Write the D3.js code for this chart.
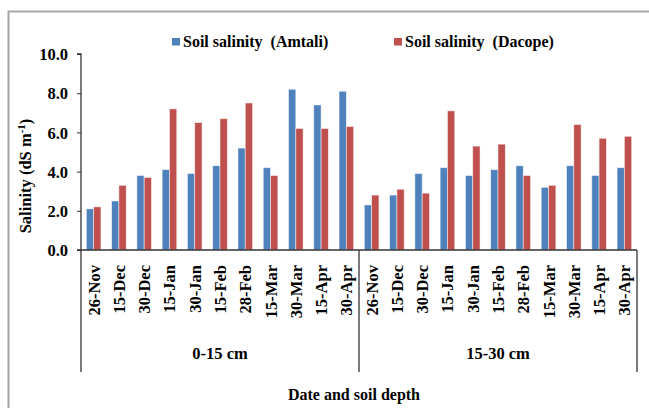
<!DOCTYPE html>
<html>
<head>
<meta charset="utf-8">
<script src="https://cdn.jsdelivr.net/npm/d3@7"></script>
<style>
	body { margin: 0; background: #fff; }
	svg text { font-family: "Liberation Serif", "Times New Roman", serif; font-weight: bold; }
</style>
</head>
<body>
<div id="chart"></div>
<script>
// Sampling dates (repeated for each depth)
const dates = ["26-Nov", "15-Dec", "30-Dec", "15-Jan", "30-Jan", "15-Feb", "28-Feb", "15-Mar", "30-Mar", "15-Apr", "30-Apr"]
const depths = ["0-15 cm", "15-30 cm"]

// Salinity values (dS m-1), 0-15 cm first then 15-30 cm
const amtali = [2.1, 2.5, 3.8, 4.1, 3.9, 4.3, 5.2, 4.2, 8.2, 7.4, 8.1,
	2.3, 2.8, 3.9, 4.2, 3.8, 4.1, 4.3, 3.2, 4.3, 3.8, 4.2]
const dacope = [2.2, 3.3, 3.7, 7.2, 6.5, 6.7, 7.5, 3.8, 6.2, 6.2, 6.3,
	2.8, 3.1, 2.9, 7.1, 5.3, 5.4, 3.8, 3.3, 6.4, 5.7, 5.8]

const yTicks = [0, 2, 4, 6, 8, 10]

const width = 649
const height = 408
const margin = { top: 54, right: 12, bottom: 158, left: 81 }
const serif = "Liberation Serif, Times New Roman, serif"

const svg = d3
	.select("#chart")
	.append("svg")
	.attr("width", width)
	.attr("height", height)
	.attr("font-family", serif)
	.attr("font-weight", "bold")

// outer frame (runs off the right and bottom like the source)
svg.append("path")
	.attr("d", `M8.5,${height + 2} V11.5 H${width + 2}`)
	.attr("fill", "none")
	.attr("stroke", "#a6a6a6")
	.attr("stroke-width", 2)

// one band per date per depth
const cats = []
depths.forEach((dep, di) => {
	dates.forEach((d) => cats.push({ key: di + "|" + d, date: d, depth: dep }))
})

const x0 = d3
	.scaleBand()
	.domain(cats.map((c) => c.key))
	.range([margin.left, 637])

const x1 = d3
	.scaleBand()
	.domain(["amtali", "dacope"])
	.range([0, x0.bandwidth()])
	.paddingInner(0)
	.paddingOuter(0.73)

const yScale = d3
	.scaleLinear()
	.domain([0, 10])
	.range([height - margin.bottom, margin.top])

const y0 = yScale(0)

// bars
const series = [
	{ key: "amtali", values: amtali, color: "#4f81bd" },
	{ key: "dacope", values: dacope, color: "#c0504d" },
]

series.forEach((s) => {
	svg.append("g")
		.selectAll("rect")
		.data(s.values)
		.enter()
		.append("rect")
		.attr("x", (d, i) => x0(cats[i].key) + x1(s.key))
		.attr("y", (d) => yScale(d))
		.attr("width", x1.bandwidth())
		.attr("height", (d) => y0 - yScale(d))
		.attr("fill", s.color)
		.attr("stroke", "#ffffff")
		.attr("stroke-opacity", 0.6)
		.attr("stroke-width", 0.8)
})

// y axis
const yAxis = svg.append("g")
	.attr("transform", `translate(${margin.left},0)`)
	.call(
		d3.axisLeft(yScale)
			.tickValues(yTicks)
			.tickSize(4)
			.tickPadding(9)
			.tickFormat(d3.format(".1f"))
	)
	.attr("font-family", serif)
	.attr("font-size", null)
yAxis.select(".domain").attr("stroke", "#333").attr("stroke-width", 1.3)
	.attr("d", `M-4,${yScale(10)}H0V${y0}`)
yAxis.selectAll(".tick line").attr("stroke", "#333")
yAxis.selectAll(".tick text")
	.attr("fill", "#000")
	.attr("dy", "0.35em")
	.style("font-size", "16.5px")

// x baseline
svg.append("line")
	.attr("x1", margin.left - 4)
	.attr("x2", 637)
	.attr("y1", y0)
	.attr("y2", y0)
	.attr("stroke", "#333")
	.attr("stroke-width", 1.3)

// group dividers
const divBottom = 372
;[margin.left, x0(cats[dates.length].key), 637].forEach((xv) => {
	svg.append("line")
		.attr("x1", xv)
		.attr("x2", xv)
		.attr("y1", y0)
		.attr("y2", divBottom)
		.attr("stroke", "#333")
		.attr("stroke-width", 1.3)
})

// date labels
svg.append("g")
	.selectAll("text")
	.data(cats)
	.enter()
	.append("text")
	.attr("transform", (c) => `translate(${x0(c.key) + x0.bandwidth() / 2 + 6},${y0 + 15}) rotate(-90)`)
	.attr("text-anchor", "end")
	.style("font-size", "16.5px")
	.text((c) => c.date)

// depth labels
depths.forEach((dep, di) => {
	const start = x0(cats[di * dates.length].key)
	const end = x0(cats[di * dates.length + dates.length - 1].key) + x0.bandwidth()
	svg.append("text")
		.attr("x", (start + end) / 2)
		.attr("y", 359)
		.attr("text-anchor", "middle")
		.style("font-size", "16.5px")
		.text(dep)
})

// axis titles
svg.append("text")
	.attr("x", 354)
	.attr("y", 400)
	.attr("text-anchor", "middle")
	.style("font-size", "16px")
	.text("Date and soil depth")

const yTitle = svg.append("text")
	.attr("transform", "translate(31,176) rotate(-90)")
	.attr("text-anchor", "middle")
	.style("font-size", "16.5px")
yTitle.append("tspan").text("Salinity (dS m")
yTitle.append("tspan").attr("dy", -6).style("font-size", "11px").text("-1")
yTitle.append("tspan").attr("dy", 6).text(")")

// legend
const legendItems = [
	{ label: "Soil salinity  (Amtali)", color: "#4f81bd", x: 172 },
	{ label: "Soil salinity  (Dacope)", color: "#c0504d", x: 394 },
]

legendItems.forEach((item) => {
	const g = svg.append("g").attr("transform", `translate(${item.x},38)`)
	g.append("rect")
		.attr("width", 8)
		.attr("height", 7.5)
		.attr("fill", item.color)
	g.append("text")
		.attr("x", 11)
		.attr("y", 9)
		.style("font-size", "16px")
		.style("white-space", "pre")
		.attr("xml:space", "preserve")
		.text(item.label)
})
</script>
</body>
</html>
